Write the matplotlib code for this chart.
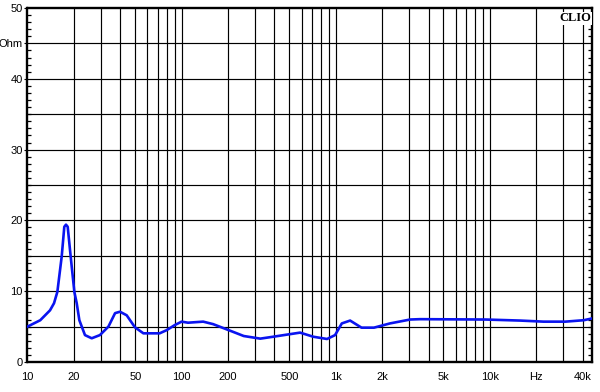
import matplotlib
matplotlib.use("Agg")
import matplotlib.pyplot as plt
from matplotlib.ticker import FixedLocator, NullFormatter

freq = [10, 12.1, 14, 14.86, 15.62, 16.67, 17.33, 17.77, 18.23, 19.06, 20.14, 20.86,
        21.7, 23.6, 26.1, 29.5, 33.5, 37, 39.8, 44, 46.3, 49.8, 56.5, 72, 80, 90, 100,
        110, 138, 160, 202, 253, 324, 393, 587, 715, 878, 990, 1095, 1240, 1470,
        1770, 2250, 3040, 3520, 9350, 15800, 22300, 30900, 40600, 46000]
imped = [5.0, 5.9, 7.3, 8.3, 9.9, 14.9, 19.1, 19.4, 19.1, 14.9, 9.9, 8.3,
         5.9, 3.8, 3.35, 3.8, 5.0, 6.9, 7.1, 6.6, 5.9, 4.9, 4.05, 4.05, 4.5, 5.2, 5.7,
         5.55, 5.7, 5.35, 4.5, 3.67, 3.3, 3.57, 4.15, 3.57, 3.25, 3.8, 5.45, 5.85,
         4.85, 4.85, 5.45, 6.0, 6.05, 6.0, 5.85, 5.7, 5.7, 5.9, 6.15]

x_tick_vals = [10, 20, 50, 100, 200, 500, 1000, 2000, 5000, 10000, 20000, 40000]
x_tick_labels = ["10", "20", "50", "100", "200", "500", "1k", "2k", "5k", "10k", "Hz", "40k"]
y_tick_vals = [0, 10, 20, 30, 40, 45, 50]
y_tick_labels = ["0", "10", "20", "30", "40", "Ohm", "50"]

plt.rcParams['font.family'] = ['Liberation Sans', 'DejaVu Sans']

fig = plt.figure(figsize=(6.0, 3.92), dpi=100)
ax = fig.add_axes([27.5/600, 30/392, (592-27.5)/600, (362-8)/392])

ax.set_xscale('log')
ax.set_xlim(10, 46000)
ax.set_ylim(0, 50)

# grid lines
grid_x = []
for dec in [10, 100, 1000, 10000]:
    for m in range(1, 10):
        v = dec * m
        if v <= 40000:
            grid_x.append(v)
for gx in grid_x[1:]:
    ax.axvline(gx, color='black', lw=0.85, zorder=1)
for gy in range(5, 50, 5):
    ax.axhline(gy, color='black', lw=0.85, zorder=1)

ax.plot(freq, imped, color='#0a14f0', lw=1.9, zorder=3, solid_joinstyle='round')

for s in ax.spines.values():
    s.set_linewidth(1.7)
    s.set_color('black')

ax.xaxis.set_major_locator(FixedLocator(x_tick_vals))
ax.set_xticklabels(x_tick_labels)
ax.xaxis.set_minor_locator(FixedLocator([]))
ax.tick_params(axis='x', which='both', length=0, pad=7, labelsize=8)

ax.yaxis.set_major_locator(FixedLocator(y_tick_vals))
ax.set_yticklabels(y_tick_labels)
ax.yaxis.set_minor_locator(FixedLocator(list(range(0, 51))))
ax.yaxis.set_minor_formatter(NullFormatter())
ax.tick_params(axis='y', which='major', direction='out', length=2, width=0.8,
               pad=1.5, labelsize=8)
ax.tick_params(axis='y', which='minor', direction='in', length=3, width=0.9,
               left=True, right=True)

ax.text(0.999, 0.988, "CLIO", transform=ax.transAxes, ha='right', va='top',
        fontsize=9, fontweight='bold', family=['Liberation Serif', 'DejaVu Serif'],
        zorder=5, bbox=dict(facecolor='white', edgecolor='none', pad=0.3))

fig.savefig("out.png", dpi=100, facecolor='white')
